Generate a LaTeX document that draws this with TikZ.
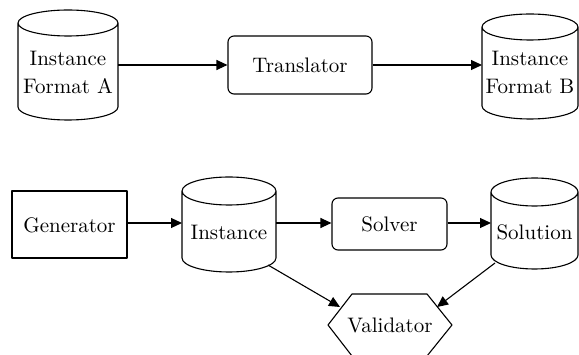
\documentclass[tikz,border=0pt]{standalone}
\usepackage{fontspec}
\newfontfamily\labelserif{lmroman10-regular.otf}
\usetikzlibrary{arrows.meta}

\tikzset{
  shp/.style={draw=black, line width=1.1pt, line join=round},
  hold/.style={inner sep=0pt, outer sep=0pt},
  rbox/.style={shp, rounded corners=6pt, inner sep=0pt},
  sbox/.style={shp, inner sep=0pt},
  txt/.style={inner sep=0pt, align=center,
    font=\labelserif\fontsize{21pt}{28pt}\selectfont},
  arr/.style={line width=1.1pt, -{Triangle[length=11pt,width=10pt]}},
}

% cylinder: name, centre x, centre y, width, height, end radius
\newcommand\cylshape[6]{%
  \node[hold, minimum width=#4pt, minimum height=#5pt] (#1) at (#2,#3) {};
  \draw[shp] ({#2-#4/2},{#3-#5/2+#6}) -- ({#2-#4/2},{#3+#5/2-#6})
    arc[start angle=180, end angle=360, x radius={#4/2*1pt}, y radius=#6pt]
    -- ({#2+#4/2},{#3-#5/2+#6})
    arc[start angle=0, end angle=360, x radius={#4/2*1pt}, y radius=#6pt];
}

\begin{document}
\begin{tikzpicture}[x=1pt, y=-1pt]
  \useasboundingbox (0,0) rectangle (579,355);

  % translation pipeline
  \cylshape{fa}{68}{65}{100}{110}{13}
  \node[txt] at (68,72) {Instance\\Format A};
  \node[rbox, minimum width=144pt, minimum height=58pt] (tr) at (300,65) {};
  \node[txt, anchor=base] at (300,73) {Translator};
  \cylshape{fb}{530}{66.5}{96}{105}{13}
  \node[txt] at (530,72) {Instance\\Format B};

  \draw[arr] (fa.east |- tr.west) -- (tr.west);
  \draw[arr] (tr.east) -- (tr.east -| fb.west);

  % solving pipeline
  \node[sbox, minimum width=115pt, minimum height=67pt] (gen) at (69.5,224.5) {};
  \node[txt, anchor=base] at (69.5,233) {Generator};
  \cylshape{inst}{229}{224.5}{94}{95}{14}
  \node[txt, anchor=base] at (229,240) {Instance};
  \node[rbox, minimum width=115pt, minimum height=52pt] (sol) at (389.5,224) {};
  \node[txt, anchor=base] at (389.5,232) {Solver};
  \cylshape{res}{534.5}{223.5}{87}{91}{14}
  \node[txt, anchor=base] at (534.5,240) {Solution};

  % validator hexagon
  \node[hold, minimum width=124pt, minimum height=62pt] (val) at (390,325) {};
  \draw[shp] (val.west) -- ([xshift=24pt]val.north west) -- ([xshift=-25pt]val.north east)
    -- (val.east) -- ([xshift=-25pt]val.south east) -- ([xshift=24pt]val.south west) -- cycle;
  \node[txt, anchor=base] at (390,333) {Validator};

  \draw[arr] (gen.east |- 0,223) -- (inst.west |- 0,223);
  \draw[arr] (inst.east |- 0,223) -- (sol.west |- 0,223);
  \draw[arr] (sol.east |- 0,223) -- (res.west |- 0,223);
  \draw[arr] ([shift={(-8,-7)}]inst.south east) -- ([shift={(12,13)}]val.north west);
  \draw[arr] ([shift={(4,-6)}]res.south west) -- ([shift={(-15,13)}]val.north east);
\end{tikzpicture}
\end{document}
